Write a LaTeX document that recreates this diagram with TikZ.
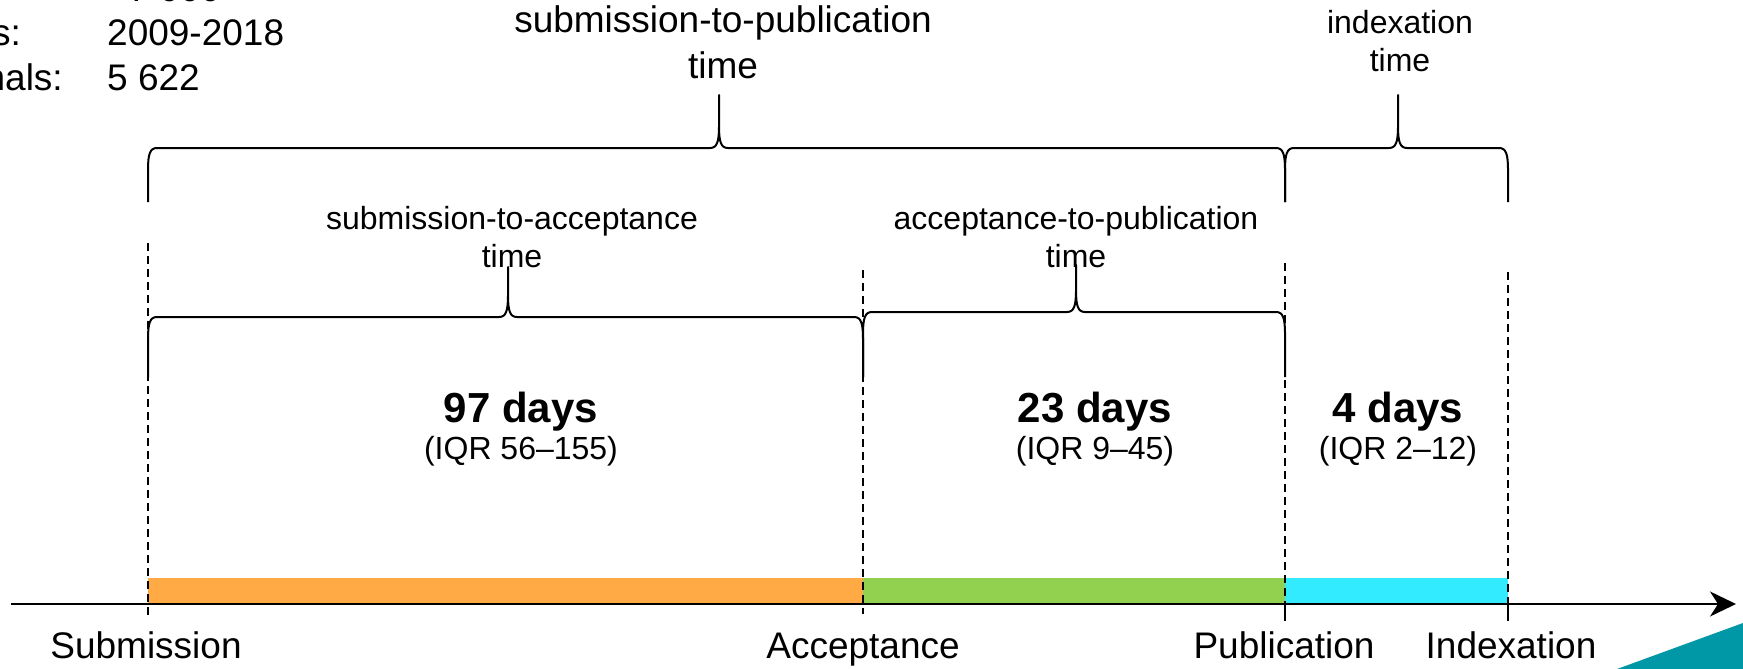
\documentclass[tikz,border=0pt]{standalone}
\usepackage{fontspec}
\setmainfont{Liberation Sans}
\usepackage{tikz}
\usetikzlibrary{arrows.meta}
\definecolor{barOrange}{HTML}{FFAA44}
\definecolor{barGreen}{HTML}{92D050}
\definecolor{barCyan}{HTML}{33EBFF}
\definecolor{cornerTeal}{HTML}{0098A6}
\tikzstyle{lbl_top} = [font=\fontsize{37}{46}\selectfont, align=center, inner sep=0pt]
\tikzstyle{lbl_sub} = [font=\fontsize{32}{38}\selectfont, align=center, inner sep=0pt]
\tikzstyle{lbl_days} = [font=\bfseries\fontsize{42}{48}\selectfont, inner sep=0pt]
\tikzstyle{lbl_iqr} = [font=\fontsize{32}{38}\selectfont, inner sep=0pt]
\tikzstyle{lbl_axis} = [font=\fontsize{37}{44}\selectfont, inner sep=0pt]
\tikzstyle{tick_d} = [line width=1.5pt, dash pattern=on 8pt off 5pt]
\tikzstyle{tick_s} = [line width=2pt]
\tikzstyle{brc} = [line width=2pt, line join=round]
% curly brace: left x, right x, tip x, bar y, end depth, tip height
\newcommand{\timebrace}[6]{%
  \draw[brc] (#1,#4+#5) -- (#1,#4+22) .. controls (#1,#4+6) and (#1+2,#4) .. (#1+9,#4)
    -- (#3-9,#4) .. controls (#3-2,#4) and (#3,#4-6) .. (#3,#4-22) -- (#3,#4-#6)
    -- (#3,#4-22) .. controls (#3,#4-6) and (#3+2,#4) .. (#3+9,#4)
    -- (#2-9,#4) .. controls (#2-2,#4) and (#2,#4+6) .. (#2,#4+22) -- (#2,#4+#5);}

\begin{document}
\begin{tikzpicture}[x=1pt,y=-1pt]
\useasboundingbox (0,0) rectangle (1743,669);
\clip (0,0) rectangle (1743,669);

% summary in the corner
\node [lbl_axis, anchor=base west] (n_art) at (128,2) {7 000};
\node [lbl_axis, anchor=base east] (l_yrs) at (21,46) {Years:};
\node [lbl_axis, anchor=base west] (n_yrs) at (107,46) {2009-2018};
\node [lbl_axis, anchor=base east] (l_jnl) at (63,90) {Journals:};
\node [lbl_axis, anchor=base west] (n_jnl) at (107,90) {5 622};

% time points on the axis
\coordinate (sub) at (148,604);
\coordinate (acc) at (863,604);
\coordinate (pub) at (1285,604);
\coordinate (idx) at (1508,604);

% bars
\fill [barOrange] ([yshift=26pt]sub) rectangle (acc);
\fill [barGreen] ([yshift=26pt]acc) rectangle (pub);
\fill [barCyan] ([yshift=26pt]pub) rectangle (idx);

% axis
\coordinate (ax0) at (11,604);
\coordinate (ax1) at (1736,604);
\draw [line width=2pt, -{Stealth[length=26pt,width=25pt,inset=8pt]}] (ax0) -- (ax1);

% dashed guides
\draw [tick_d] (148,243) -- (148,616);
\draw [tick_d] (863,270) -- (863,614);
\draw [tick_d] (1285,263) -- (pub);
\draw [tick_d] (1508,272) -- (idx);
\draw [tick_s] (pub) -- ++(0,17);
\draw [tick_s] (idx) -- ++(0,17);

% braces
\timebrace{148}{1285}{719}{148}{54}{53}
\timebrace{1285}{1508}{1398}{148}{54}{53}
\timebrace{148}{863}{508}{317}{60}{50}
\timebrace{863}{1285}{1076}{312}{65}{47}

% brace labels (base = last line)
\node [lbl_top, anchor=base] (t_s2p) at (723,78) {submission-to-publication\\time};
\node [lbl_sub, anchor=base] (t_idx) at (1400,72) {indexation\\time};
\node [lbl_sub, anchor=base] (t_s2a) at (512,267) {submission-to-acceptance\\time};
\node [lbl_sub, anchor=base] (t_a2p) at (1076,267) {acceptance-to-publication\\time};

% medians
\node [lbl_days, anchor=base] (d_s2a) at (521,422) {97 days};
\node [lbl_iqr, anchor=base] (q_s2a) at (521,459) {(IQR 56–155)};
\node [lbl_days, anchor=base] (d_a2p) at (1095,422) {23 days};
\node [lbl_iqr, anchor=base] (q_a2p) at (1095,459) {(IQR 9–45)};
\node [lbl_days, anchor=base] (d_idx) at (1398,422) {4 days};
\node [lbl_iqr, anchor=base] (q_idx) at (1398,459) {(IQR 2–12)};

% axis labels
\node [lbl_axis, anchor=base] (a_sub) at (146,658) {Submission};
\node [lbl_axis, anchor=base] (a_acc) at (863,658) {Acceptance};
\node [lbl_axis, anchor=base] (a_pub) at (1284,658) {Publication};
\node [lbl_axis, anchor=base] (a_idx) at (1511,658) {Indexation};

% corner mark
\fill [cornerTeal] (1617,669) -- (1743,623) -- (1743,669) -- cycle;
\end{tikzpicture}
\end{document}
